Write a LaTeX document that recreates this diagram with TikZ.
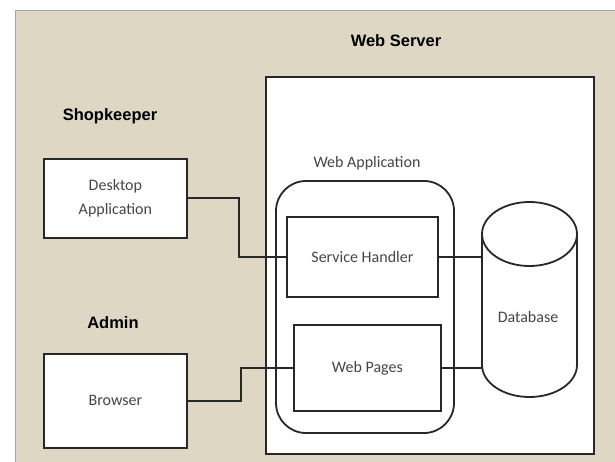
\documentclass[tikz,border=0pt]{standalone}
\usepackage{fontspec}
\setmainfont{Carlito}
\newfontfamily\labelfont{Liberation Sans}
\definecolor{panel}{RGB}{221,215,196}
\definecolor{ink}{RGB}{40,40,40}
\definecolor{txt}{RGB}{70,70,70}
\begin{document}
\begin{tikzpicture}[x=1pt,y=-1pt,
  box/.style={draw=ink, line width=1.8pt, fill=white, inner sep=0pt},
  lbl/.style={font=\labelfont\bfseries\fontsize{16.5}{18}\selectfont, text=black},
  inner/.style={font=\fontsize{16}{24}\selectfont, text=txt, align=center},
  wire/.style={draw=ink, line width=1.8pt}]
\useasboundingbox (0,0) rectangle (615,462);
\fill[white] (0,0) rectangle (615,462);
\fill[panel] (15,10) rectangle (615,462);
\draw[gray!70, line width=0.8pt] (615,10) -- (15,10) -- (15,462);
% web server
\node[box, minimum width=328pt, minimum height=377pt, anchor=north west] (ws) at (265,76) {};
\node[lbl] (wsl) at (396,41) {Web Server};
\node[lbl] (shk) at (110,116) {Shopkeeper};
\node[lbl] (adm) at (113,323) {Admin};
% web application
\node[inner] (wal) at (367,163) {Web Application};
\draw[ink, line width=1.8pt, rounded corners=30pt, fill=white] (276,181) rectangle (454,433);
\node[box, inner, minimum width=151pt, minimum height=80pt, anchor=north west] (sh) at (286,216) {};
\node[inner] at (sh.center) {Service Handler};
\node[box, inner, minimum width=147pt, minimum height=86pt, anchor=north west] (wp) at (293,324) {};
\node[inner] at (wp.center) {Web Pages};
% database
\node[minimum width=95pt, minimum height=195pt, anchor=north west, inner sep=0pt] (db) at (482,202) {};
\draw[ink, line width=1.8pt, fill=white]
  (482,234) -- (482,365) arc[start angle=180, end angle=360, x radius=47.5pt, y radius=32pt]
  -- (577,234) arc[start angle=0, end angle=180, x radius=47.5pt, y radius=32pt] -- cycle;
\draw[ink, line width=1.8pt] (482,234) arc[start angle=180, end angle=360, x radius=47.5pt, y radius=32pt];
\node[inner] (dbl) at (528,317) {Database};
% clients
\node[box, minimum width=143pt, minimum height=79pt, anchor=north west] (desk) at (43,158) {};
\node[inner] at (desk.center) {Desktop\\Application};
\node[box, minimum width=143pt, minimum height=94pt, anchor=north west] (brw) at (43,353) {};
\node[inner] at (brw.center) {Browser};
% connectors
\draw[wire] (desk.east) -- ++(51,0) |- (sh.west);
\draw[wire] (brw.east) -- ++(53,0) |- (wp.west);
\draw[wire] (sh.east) -- (sh.east -| db.west);
\draw[wire] (wp.east) -- (wp.east -| db.west);
\end{tikzpicture}
\end{document}
